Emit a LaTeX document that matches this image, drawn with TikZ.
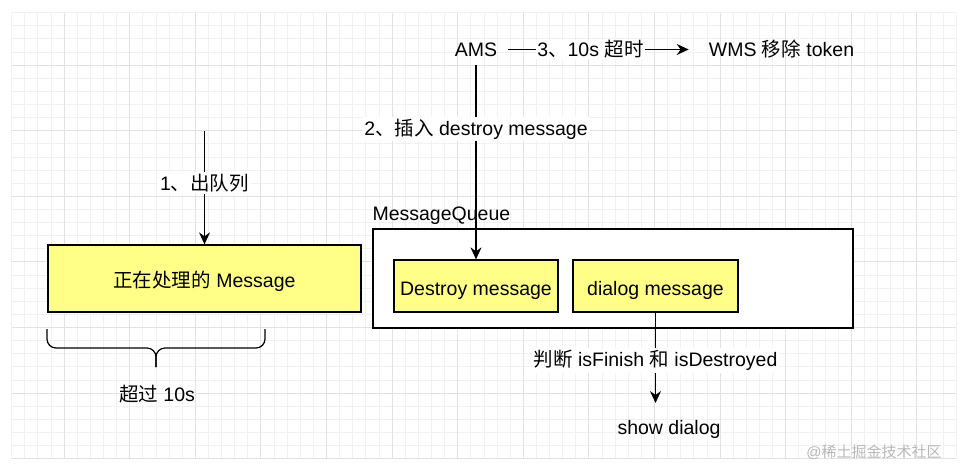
\documentclass[tikz,border=0pt]{standalone}
\usepackage{fontspec}
\setmainfont{Liberation Sans}
\newfontfamily\cjk{Noto Sans CJK SC}
\usetikzlibrary{arrows.meta}
\definecolor{boxyellow}{HTML}{FFFF88}
\definecolor{gridminor}{HTML}{F1F1F1}
\definecolor{gridmajor}{HTML}{E2E2E2}
\definecolor{wmgrey}{HTML}{B8B8B8}
\newcommand\zh[1]{{\cjk #1}}
\begin{document}
\begin{tikzpicture}[x=1pt,y=-1pt,
  font=\fontsize{19.5}{23}\selectfont,
  msgbox/.style={draw=black, line width=1.3pt, fill=boxyellow, inner sep=0pt, minimum height=52pt, text height=18pt, text depth=0pt},
  conn/.style={line width=1.2pt, -{Stealth[length=12pt,width=11pt,inset=4pt]}},
  plainline/.style={line width=1.2pt},
  lbl/.style={fill=white, inner sep=2pt},
  txt/.style={inner sep=0pt}]
\useasboundingbox (0,0) rectangle (964,472);
\fill[white] (0,0) rectangle (964,472);
% grid
\foreach \i in {0,...,72}
  \draw[gridminor, line width=0.6pt] ({11.5+13.12*\i},12.5) -- ({11.5+13.12*\i},458.6);
\foreach \j in {0,...,34}
  \draw[gridminor, line width=0.6pt] (11.5,{12.5+13.12*\j}) -- (956,{12.5+13.12*\j});
\foreach \i in {4,9,...,69}
  \draw[gridmajor, line width=0.7pt] ({11.5+13.12*\i},12.5) -- ({11.5+13.12*\i},458.6);
\foreach \j in {4,9,...,34}
  \draw[gridmajor, line width=0.7pt] (11.5,{12.5+13.12*\j}) -- (956,{12.5+13.12*\j});

% current message
\node[msgbox, minimum width=313pt, minimum height=67pt, text height=17pt] (cur) at (204.5,278.5) {\zh{正在处理的} Message};
\coordinate (deqstart) at (204.5,131);
\draw[conn] (deqstart) -- node[lbl, pos=0.46] {1\zh{、出队列}} (cur.north);

% brace
\coordinate (brl) at (47,329);
\coordinate (brr) at (265,329);
\coordinate (brtip) at (156,367);
\draw[plainline, rounded corners=9pt] (brl) -- (47,348) -- (brtip |- 0,348) -- (brtip);
\draw[plainline, rounded corners=9pt] (brr) -- (265,348) -- (brtip |- 0,348) -- (brtip);
\node[txt] (over) at (157,394) {\zh{超过} 10s};

% AMS and WMS
\node[txt, inner xsep=11pt, inner ysep=8pt] (ams) at (476,49.5) {AMS};
\node[txt, inner xsep=20pt] (wms) at (781.5,49.5) {WMS \zh{移除} token};
\draw[conn] (ams.east) -- node[lbl, inner sep=1pt, pos=0.455] {3\zh{、}10s \zh{超时}} (wms.west);

% message queue
\node[draw=black, line width=1.3pt, fill=white, minimum width=480pt, minimum height=99pt, inner sep=0pt] (queue) at (613,278.5) {};
\node[txt, anchor=base west] (qlabel) at ([yshift=8pt]queue.north west) {MessageQueue};
\node[msgbox, minimum width=164pt] (destroy) at (476,286) {Destroy message};
\node[msgbox, minimum width=165pt] (dialog) at (655.5,286) {dialog message};

\draw[conn] (ams.south) -- node[lbl, pos=0.33] {2\zh{、插入} destroy message} (destroy.north);

% decision
\coordinate (showtip) at (655.5,403);
\draw[conn] (dialog.south) -- node[lbl, pos=0.53] {\zh{判断} isFinish \zh{和} isDestroyed} (showtip);
\node[txt] (show) at (669,429) {show dialog};

% watermark
\node[txt, text=wmgrey, font=\fontsize{15}{18}\selectfont] (wm) at (874,452) {@\zh{稀土掘金技术社区}};
\end{tikzpicture}
\end{document}
